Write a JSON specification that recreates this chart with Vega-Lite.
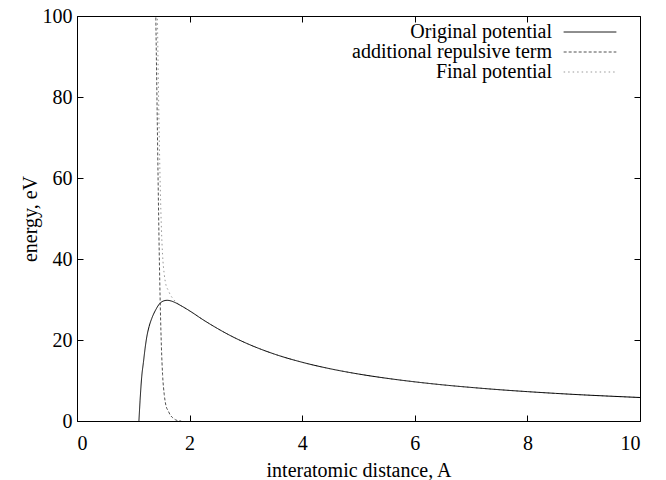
{
  "$schema": "https://vega.github.io/schema/vega-lite/v6.json",
  "width": 563,
  "height": 405,
  "autosize": {"type": "none"},
  "padding": {"left": 77, "top": 16, "right": 26, "bottom": 59},
  "config": {
    "font": "Liberation Serif",
    "view": {"stroke": "#000000", "strokeWidth": 1},
    "axis": {
      "grid": false,
      "domain": false,
      "tickColor": "#000000",
      "tickSize": -6,
      "tickWidth": 1,
      "labelFont": "Liberation Serif",
      "labelFontSize": 20,
      "labelColor": "#000000",
      "titleFont": "Liberation Serif",
      "titleFontSize": 20,
      "titleFontWeight": "normal",
      "titleColor": "#000000"
    },
    "legend": {
      "labelFont": "Liberation Serif",
      "labelFontSize": 20,
      "labelColor": "#000000",
      "labelLimit": 0
    }
  },
  "data": {
    "values": [
      {"x": 1.39, "energy": 139.3, "series": "Final potential"},
      {"x": 1.40, "energy": 127.5, "series": "Final potential"},
      {"x": 1.42, "energy": 108.0, "series": "Final potential"},
      {"x": 1.44, "energy": 88.4, "series": "Final potential"},
      {"x": 1.46, "energy": 70.8, "series": "Final potential"},
      {"x": 1.48, "energy": 57.1, "series": "Final potential"},
      {"x": 1.50, "energy": 47.3, "series": "Final potential"},
      {"x": 1.52, "energy": 41.0, "series": "Final potential"},
      {"x": 1.55, "energy": 36.2, "series": "Final potential"},
      {"x": 1.58, "energy": 33.6, "series": "Final potential"},
      {"x": 1.62, "energy": 32.3, "series": "Final potential"},
      {"x": 1.66, "energy": 31.1, "series": "Final potential"},
      {"x": 1.70, "energy": 30.3, "series": "Final potential"},
      {"x": 1.75, "energy": 29.5, "series": "Final potential"},
      {"x": 1.80, "energy": 28.9, "series": "Final potential"},
      {"x": 1.85, "energy": 28.45, "series": "Final potential"},
      {"x": 2.0, "energy": 27.2, "series": "Final potential"},
      {"x": 2.25, "energy": 24.9, "series": "Final potential"},
      {"x": 2.5, "energy": 22.8, "series": "Final potential"},
      {"x": 2.75, "energy": 20.9, "series": "Final potential"},
      {"x": 3.0, "energy": 19.25, "series": "Final potential"},
      {"x": 3.5, "energy": 16.55, "series": "Final potential"},
      {"x": 4.0, "energy": 14.5, "series": "Final potential"},
      {"x": 4.5, "energy": 12.89, "series": "Final potential"},
      {"x": 5.0, "energy": 11.6, "series": "Final potential"},
      {"x": 5.5, "energy": 10.55, "series": "Final potential"},
      {"x": 6.0, "energy": 9.67, "series": "Final potential"},
      {"x": 6.5, "energy": 8.92, "series": "Final potential"},
      {"x": 7.0, "energy": 8.29, "series": "Final potential"},
      {"x": 7.5, "energy": 7.73, "series": "Final potential"},
      {"x": 8.0, "energy": 7.25, "series": "Final potential"},
      {"x": 8.5, "energy": 6.82, "series": "Final potential"},
      {"x": 9.0, "energy": 6.44, "series": "Final potential"},
      {"x": 9.5, "energy": 6.11, "series": "Final potential"},
      {"x": 10.0, "energy": 5.8, "series": "Final potential"},

      {"x": 1.39, "energy": 112.0, "series": "additional repulsive term"},
      {"x": 1.40, "energy": 100.0, "series": "additional repulsive term"},
      {"x": 1.42, "energy": 80.0, "series": "additional repulsive term"},
      {"x": 1.44, "energy": 60.0, "series": "additional repulsive term"},
      {"x": 1.46, "energy": 42.0, "series": "additional repulsive term"},
      {"x": 1.48, "energy": 28.0, "series": "additional repulsive term"},
      {"x": 1.50, "energy": 18.0, "series": "additional repulsive term"},
      {"x": 1.52, "energy": 11.5, "series": "additional repulsive term"},
      {"x": 1.55, "energy": 6.5, "series": "additional repulsive term"},
      {"x": 1.58, "energy": 3.8, "series": "additional repulsive term"},
      {"x": 1.62, "energy": 2.5, "series": "additional repulsive term"},
      {"x": 1.66, "energy": 1.4, "series": "additional repulsive term"},
      {"x": 1.70, "energy": 0.8, "series": "additional repulsive term"},
      {"x": 1.75, "energy": 0.3, "series": "additional repulsive term"},
      {"x": 1.80, "energy": 0.05, "series": "additional repulsive term"},
      {"x": 1.85, "energy": 0.0, "series": "additional repulsive term"},

      {"x": 1.07, "energy": -8.0, "series": "Original potential"},
      {"x": 1.10, "energy": 0.0, "series": "Original potential"},
      {"x": 1.12, "energy": 5.0, "series": "Original potential"},
      {"x": 1.15, "energy": 11.0, "series": "Original potential"},
      {"x": 1.18, "energy": 14.5, "series": "Original potential"},
      {"x": 1.21, "energy": 18.0, "series": "Original potential"},
      {"x": 1.24, "energy": 20.8, "series": "Original potential"},
      {"x": 1.28, "energy": 23.3, "series": "Original potential"},
      {"x": 1.33, "energy": 25.4, "series": "Original potential"},
      {"x": 1.40, "energy": 27.5, "series": "Original potential"},
      {"x": 1.47, "energy": 29.0, "series": "Original potential"},
      {"x": 1.53, "energy": 29.6, "series": "Original potential"},
      {"x": 1.60, "energy": 29.8, "series": "Original potential"},
      {"x": 1.68, "energy": 29.6, "series": "Original potential"},
      {"x": 1.75, "energy": 29.2, "series": "Original potential"},
      {"x": 1.85, "energy": 28.45, "series": "Original potential"},
      {"x": 2.0, "energy": 27.2, "series": "Original potential"},
      {"x": 2.25, "energy": 24.9, "series": "Original potential"},
      {"x": 2.5, "energy": 22.8, "series": "Original potential"},
      {"x": 2.75, "energy": 20.9, "series": "Original potential"},
      {"x": 3.0, "energy": 19.25, "series": "Original potential"},
      {"x": 3.5, "energy": 16.55, "series": "Original potential"},
      {"x": 4.0, "energy": 14.5, "series": "Original potential"},
      {"x": 4.5, "energy": 12.89, "series": "Original potential"},
      {"x": 5.0, "energy": 11.6, "series": "Original potential"},
      {"x": 5.5, "energy": 10.55, "series": "Original potential"},
      {"x": 6.0, "energy": 9.67, "series": "Original potential"},
      {"x": 6.5, "energy": 8.92, "series": "Original potential"},
      {"x": 7.0, "energy": 8.29, "series": "Original potential"},
      {"x": 7.5, "energy": 7.73, "series": "Original potential"},
      {"x": 8.0, "energy": 7.25, "series": "Original potential"},
      {"x": 8.5, "energy": 6.82, "series": "Original potential"},
      {"x": 9.0, "energy": 6.44, "series": "Original potential"},
      {"x": 9.5, "energy": 6.11, "series": "Original potential"},
      {"x": 10.0, "energy": 5.8, "series": "Original potential"}
    ]
  },
  "layer": [
    {
      "mark": {"type": "line", "strokeWidth": 1, "clip": true, "interpolate": "monotone"},
      "encoding": {
        "x": {
          "field": "x",
          "type": "quantitative",
          "scale": {"domain": [0, 10], "nice": false, "zero": false},
          "axis": {"orient": "bottom", "values": [0, 2, 4, 6, 8, 10], "labelPadding": 18, "title": "interatomic distance, A", "titlePadding": 7}
        },
        "y": {
          "field": "energy",
          "type": "quantitative",
          "scale": {"domain": [0, 100], "nice": false},
          "axis": {"orient": "left", "values": [0, 20, 40, 60, 80, 100], "labelPadding": 11, "title": "energy, eV", "titlePadding": 2}
        },
        "color": {
          "field": "series",
          "type": "nominal",
          "scale": {
            "domain": ["Original potential", "additional repulsive term", "Final potential"],
            "range": ["#000000", "#505050", "#999999"]
          },
          "legend": {
            "title": null,
            "orient": "none",
            "legendX": 503,
            "legendY": 6,
            "padding": 0,
            "rowPadding": 0,
            "symbolType": "M-3.1,0H3.1",
            "symbolSize": 289,
            "symbolStrokeWidth": 1,
            "labelAlign": "right",
            "labelOffset": -48,
            "labelLimit": 0
          }
        },
        "strokeDash": {
          "field": "series",
          "type": "nominal",
          "scale": {
            "domain": ["Original potential", "additional repulsive term", "Final potential"],
            "range": [[1, 0], [3, 2], [1.5, 3]]
          },
          "legend": {
            "title": null,
            "orient": "none",
            "legendX": 503,
            "legendY": 6,
            "padding": 0,
            "rowPadding": 0,
            "symbolType": "M-3.1,0H3.1",
            "symbolSize": 289,
            "symbolStrokeWidth": 1,
            "labelAlign": "right",
            "labelOffset": -48,
            "labelLimit": 0
          }
        }
      }
    },
    {
      "mark": {"type": "point", "opacity": 0},
      "encoding": {
        "x": {
          "field": "x",
          "type": "quantitative",
          "axis": {"orient": "top", "values": [0, 2, 4, 6, 8, 10], "labels": false, "title": null}
        },
        "y": {
          "field": "energy",
          "type": "quantitative",
          "axis": {"orient": "right", "values": [0, 20, 40, 60, 80, 100], "labels": false, "title": null}
        }
      }
    }
  ]
}
